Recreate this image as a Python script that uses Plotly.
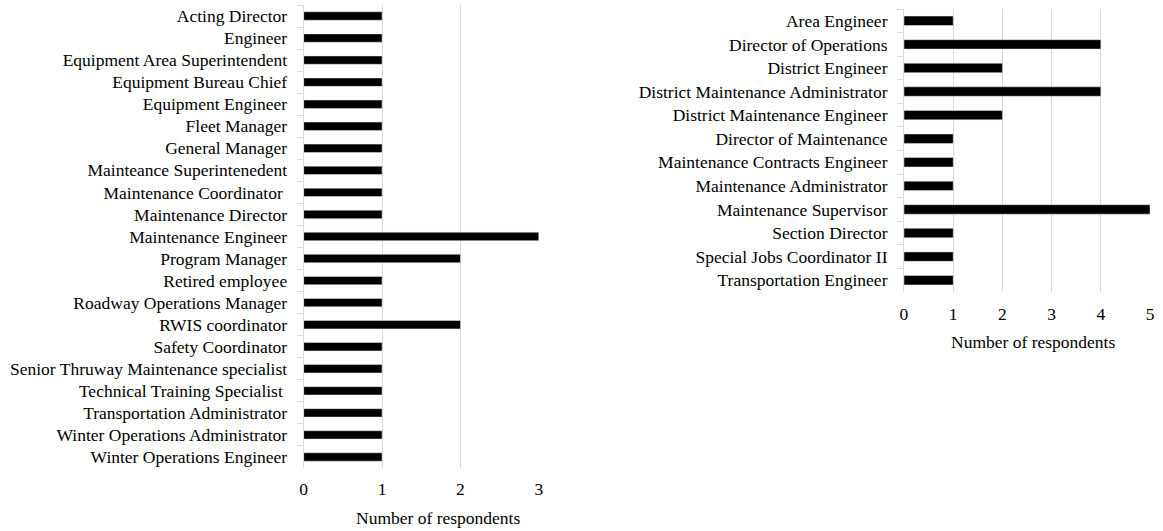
import plotly.graph_objects as go

left_titles = [
    "Acting Director", "Engineer", "Equipment Area Superintendent", "Equipment Bureau Chief",
    "Equipment Engineer", "Fleet Manager", "General Manager", "Mainteance Superintenedent",
    "Maintenance Coordinator\u00a0", "Maintenance Director", "Maintenance Engineer", "Program Manager",
    "Retired employee", "Roadway Operations Manager", "RWIS coordinator", "Safety Coordinator",
    "Senior Thruway Maintenance specialist", "Technical Training Specialist\u00a0",
    "Transportation Administrator", "Winter Operations Administrator", "Winter Operations Engineer",
]
left_counts = [1, 1, 1, 1, 1, 1, 1, 1, 1, 1, 3, 2, 1, 1, 2, 1, 1, 1, 1, 1, 1]

right_titles = [
    "Area Engineer", "Director of Operations", "District Engineer", "District Maintenance Administrator",
    "District Maintenance Engineer", "Director of Maintenance", "Maintenance Contracts Engineer",
    "Maintenance Administrator", "Maintenance Supervisor", "Section Director",
    "Special Jobs Coordinator II", "Transportation Engineer",
]
right_counts = [1, 4, 2, 4, 2, 1, 1, 1, 5, 1, 1, 1]

x_title = "Number of respondents"

FONT = "Liberation Serif, Times New Roman, serif"
FS = 17.5
GRID = "#d9d9d9"

fig = go.Figure()
fig.add_trace(go.Bar(x=left_counts, y=left_titles, orientation="h", marker_color="black",
                     width=0.38, xaxis="x", yaxis="y", showlegend=False))
fig.add_trace(go.Bar(x=right_counts, y=right_titles, orientation="h", marker_color="black",
                     width=0.4, xaxis="x2", yaxis="y2", showlegend=False))

W, H = 1163, 531
lx0, lx1 = 302, 539
ly0, ly1 = 5, 468
rx0, rx1 = 907, 1155
ry0, ry1 = 9, 292

common_x = dict(showgrid=True, gridcolor=GRID, gridwidth=1, zeroline=False, showline=False,
                ticks="", tickfont=dict(family=FONT, size=FS, color="black"), dtick=1, fixedrange=True)
common_y = dict(showgrid=False, zeroline=False, showline=True, linecolor=GRID, linewidth=1,
                ticks="outside", tickson="boundaries", ticklen=6, tickcolor=GRID,
                tickfont=dict(family=FONT, size=FS, color="black"), autorange="reversed",
                type="category", ticklabelstandoff=12)

fig.update_layout(
    width=W, height=H,
    margin=dict(l=0, r=0, t=0, b=0),
    paper_bgcolor="white", plot_bgcolor="white",
    xaxis=dict(domain=[lx0 / W, lx1 / W], range=[0, 3], anchor="y", ticklabelstandoff=8, **common_x),
    yaxis=dict(domain=[1 - ly1 / H, 1 - ly0 / H], anchor="x", **common_y),
    xaxis2=dict(domain=[rx0 / W, rx1 / W], range=[0, 5], anchor="y2", ticklabelstandoff=9, **common_x),
    yaxis2=dict(domain=[1 - ry1 / H, 1 - ry0 / H], anchor="x2", **common_y),
    annotations=[
        dict(text=x_title, x=437 / W, y=1 - 518 / H, xref="paper", yref="paper",
             showarrow=False, font=dict(family=FONT, size=FS, color="black"), xanchor="center", yanchor="middle"),
        dict(text=x_title, x=1037 / W, y=1 - 342 / H, xref="paper", yref="paper",
             showarrow=False, font=dict(family=FONT, size=FS, color="black"), xanchor="center", yanchor="middle"),
    ],
)

fig.write_html("out.html")
